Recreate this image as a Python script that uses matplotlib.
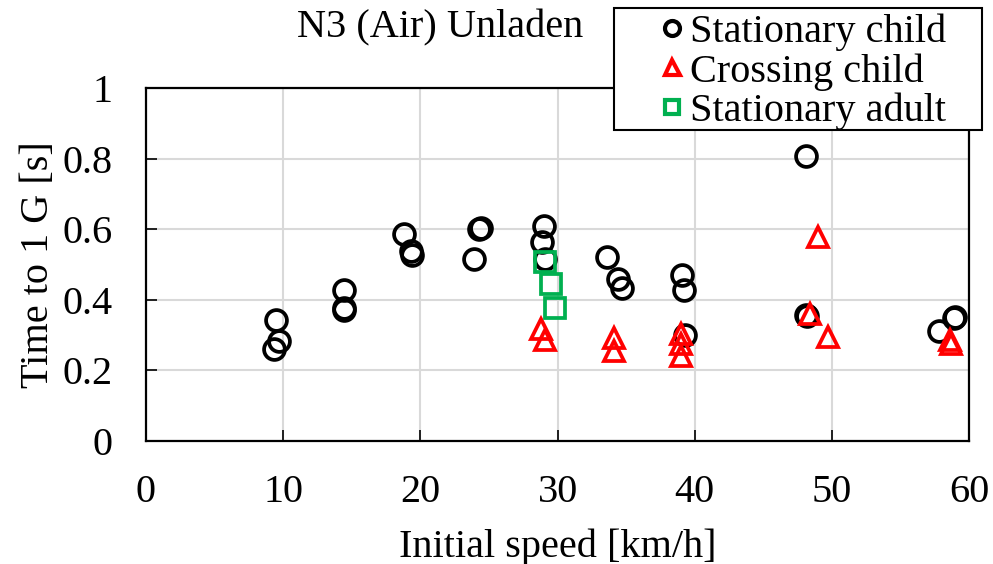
import numpy as np
import matplotlib
matplotlib.use("Agg")
from matplotlib import pyplot as plt

plt.rcParams['font.family'] = ['Liberation Serif', 'DejaVu Serif']

# --- data ---
sc_speed = [9.3, 9.5, 9.7, 14.4, 14.4, 14.4, 18.8, 19.3, 19.4, 23.9, 24.3, 24.4,
            29.0, 28.9, 29.1, 33.6, 34.4, 34.7, 39.1, 39.2, 39.3, 48.1, 48.1, 48.2,
            57.8, 58.9, 59.0]
sc_time = [0.261, 0.343, 0.284, 0.428, 0.377, 0.370, 0.586, 0.538, 0.527, 0.516, 0.600, 0.603,
           0.608, 0.563, 0.515, 0.521, 0.459, 0.434, 0.470, 0.428, 0.300, 0.808, 0.357, 0.355,
           0.313, 0.348, 0.352]

cc_speed = [28.8, 29.1, 34.1, 34.1, 39.0, 39.0, 39.0, 49.0, 48.4, 49.7, 58.6, 58.7]
cc_time = [0.318, 0.287, 0.293, 0.254, 0.303, 0.275, 0.240, 0.577, 0.360, 0.296, 0.286, 0.274]

sa_speed = [29.1, 29.5, 29.8]
sa_time = [0.507, 0.444, 0.376]

xticks = [0, 10, 20, 30, 40, 50, 60]
yticks = [0, 0.2, 0.4, 0.6, 0.8, 1]
ytick_labels = ['0', '0.2', '0.4', '0.6', '0.8', '1']

fs = 29

fig = plt.figure(figsize=(9.93, 5.64), dpi=100)
ax = fig.add_axes([0.147, 0.218, 0.829, 0.626])

ax.plot(sc_speed, sc_time, 'o', ms=15, mfc='none', mec='black', mew=2.7,
        label='Stationary child', zorder=3)
ax.plot(cc_speed, cc_time, '^', ms=15, mfc='none', mec='#ff0000', mew=2.7,
        label='Crossing child', zorder=4)
ax.plot(sa_speed, sa_time, 's', ms=14, mfc='none', mec='#00b050', mew=2.7,
        label='Stationary adult', zorder=5)

ax.set_xlim(0, 60)
ax.set_ylim(0, 1)
ax.set_xticks(xticks)
ax.set_yticks(yticks)
ax.set_yticklabels(ytick_labels)
ax.grid(True, color='#d9d9d9', linewidth=1.5)
ax.set_axisbelow(True)
ax.tick_params(direction='in', length=8, width=1.2, labelsize=fs)
ax.tick_params(axis='x', pad=24)
ax.tick_params(axis='y', pad=24)
for s in ax.spines.values():
    s.set_linewidth(1.6)

ax.set_xlabel('Initial speed [km/h]', fontsize=fs, labelpad=12)
ax.set_ylabel('Time to 1 G [s]', fontsize=fs, labelpad=4)
fig.text(0.443, 0.95, 'N3 (Air) Unladen', fontsize=fs, ha='center', va='center')

# legend box (white, black edge) sitting over the top-right of the plot
box = plt.Rectangle((0.6183, 0.7695), 0.3706, 0.2163, transform=fig.transFigure,
                    facecolor='white', edgecolor='black', linewidth=1.5, zorder=5)
fig.patches.append(box)

handles, labels = ax.get_legend_handles_labels()
leg = fig.legend(handles, labels, loc='upper left', bbox_to_anchor=(0.6647, 0.976),
                 fontsize=fs, markerscale=0.72, handlelength=0.6, handletextpad=0.15,
                 labelspacing=0.05, borderpad=0, borderaxespad=0, frameon=False)
leg.set_zorder(6)
for h in leg.legend_handles:
    h.set_markeredgewidth(3)

fig.savefig('out.png', dpi=100)
